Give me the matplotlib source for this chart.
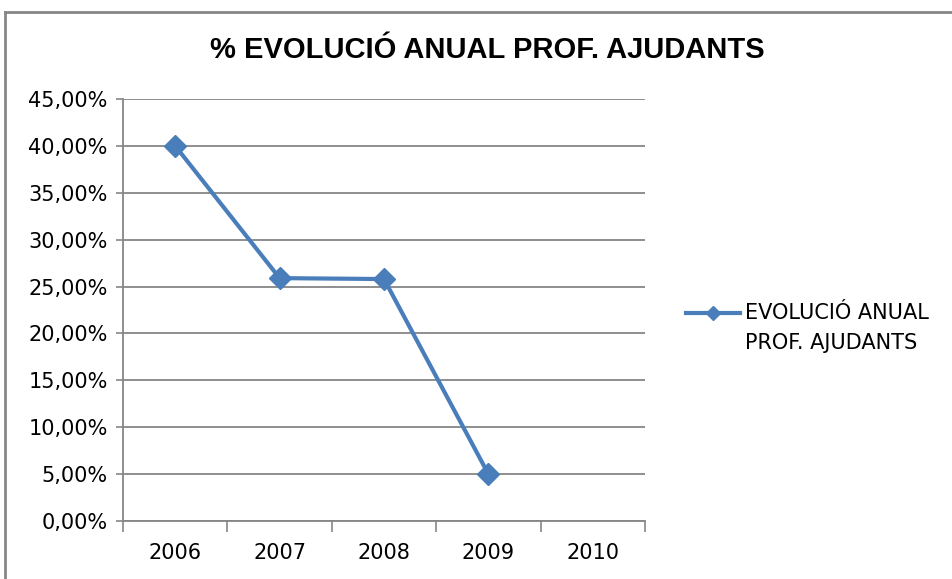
import numpy as np
import matplotlib
matplotlib.use("Agg")
import matplotlib.pyplot as plt
from matplotlib.lines import Line2D

# Data
years = ['2006', '2007', '2008', '2009', '2010']
values = [40.0, 25.9, 25.8, 5.0, np.nan]
yticks = [0, 5, 10, 15, 20, 25, 30, 35, 40, 45]
series_name = ['EVOLUCIÓ ANUAL', 'PROF. AJUDANTS']
title = '% EVOLUCIÓ ANUAL PROF. AJUDANTS'

blue = '#4A7EBB'
grey = '#868686'

fig = plt.figure(figsize=(9.53, 5.79), dpi=100)
ax = fig.add_axes([123 / 953, 1 - 521 / 579, (645 - 123) / 953, (521 - 99) / 579])

x = np.arange(len(years))
line, = ax.plot(x, values, color=blue, linewidth=3, marker='D', markersize=11)

ax.set_xlim(-0.5, len(years) - 0.5)
ax.set_ylim(0, 45)

# y axis
ax.set_yticks(yticks)
ax.set_yticklabels([f'{v:.2f}%'.replace('.', ',') for v in yticks])
ax.yaxis.grid(True, color=grey, linewidth=1.3)
ax.set_axisbelow(True)
ax.tick_params(axis='y', length=5, color=grey, width=1.2, pad=6)

# x axis: labels in the middle, tick marks between categories
ax.set_xticks(x)
ax.set_xticklabels(years)
ax.set_xticks(np.arange(len(years) + 1) - 0.5, minor=True)
ax.tick_params(axis='x', which='major', length=0, pad=16)
ax.tick_params(axis='x', which='minor', length=8, color=grey, width=1.2)

for lab in ax.get_xticklabels() + ax.get_yticklabels():
    lab.set_fontfamily('DejaVu Sans')
    lab.set_fontsize(15)

for s in ['top', 'right']:
    ax.spines[s].set_visible(False)
for s in ['left', 'bottom']:
    ax.spines[s].set_color(grey)
    ax.spines[s].set_linewidth(1.3)

fig.text(487 / 953, 1 - 50 / 579, title, ha='center', va='center',
         fontsize=21, fontweight='bold', family='Liberation Sans')

# legend: handle lines up with the first line of the label
fig.add_artist(Line2D([686 / 953, 740 / 953], [1 - 313 / 579] * 2,
                      transform=fig.transFigure, color=blue, linewidth=3))
fig.add_artist(Line2D([713 / 953], [1 - 313 / 579], transform=fig.transFigure,
                      color=blue, marker='D', markersize=7, linestyle='none'))
for i, txt in enumerate(series_name):
    fig.text(745 / 953, 1 - (313 + 30 * i) / 579, txt, ha='left', va='center',
             fontsize=15, family='DejaVu Sans')

# outer chart border (top and left visible)
fig.add_artist(Line2D([5 / 953, 1], [1 - 12 / 579, 1 - 12 / 579],
                      transform=fig.transFigure, color=grey, linewidth=2))
fig.add_artist(Line2D([5 / 953, 5 / 953], [0, 1 - 12 / 579],
                      transform=fig.transFigure, color=grey, linewidth=2))

fig.savefig('out.png', dpi=100)
